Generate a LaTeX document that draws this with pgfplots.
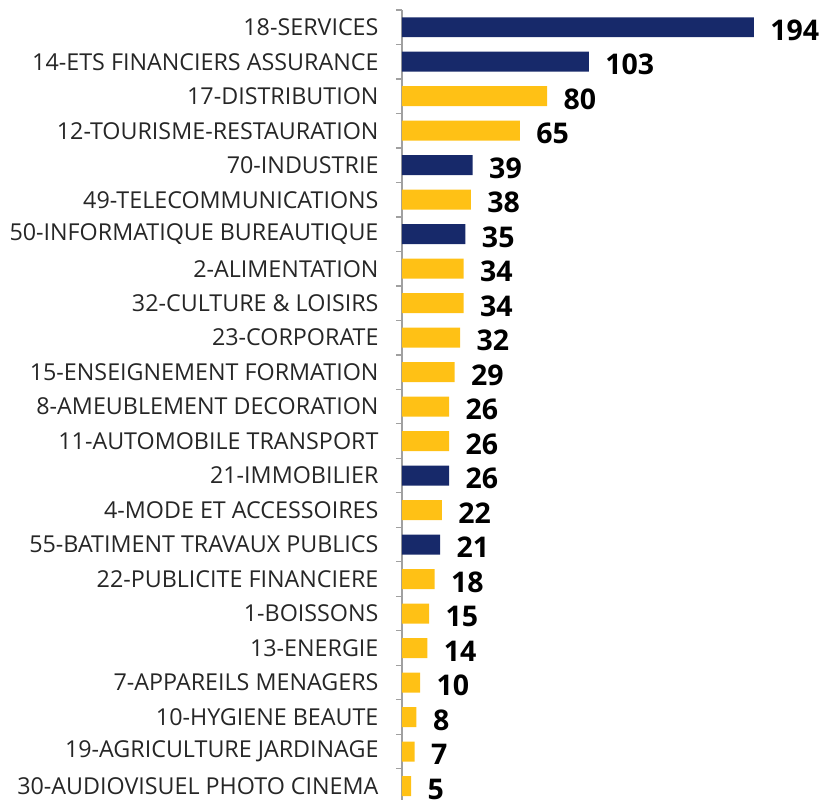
\documentclass[border=0pt]{standalone}
\usepackage{pgfplots}
\pgfplotsset{compat=1.18}
\usepackage{fontspec}
\setmainfont{Open Sans}
\definecolor{navy}{HTML}{17296A}
\definecolor{gold}{HTML}{FFC115}
\definecolor{axgray}{HTML}{A0A0A0}

\begin{document}
\begin{tikzpicture}
\begin{axis}[
  xbar, bar shift=0pt, bar width=20pt,
  scale only axis, width=352pt, height=790pt,
  xmin=0, xmax=194, ymin=0.5, ymax=23.4, y dir=reverse,
  axis x line=none, axis y line*=left,
  y axis line style={-, axgray, line width=1.2pt},
  ytick={1,...,23},
  yticklabels={18-SERVICES, 14-ETS FINANCIERS ASSURANCE, 17-DISTRIBUTION,
    12-TOURISME-RESTAURATION, 70-INDUSTRIE, 49-TELECOMMUNICATIONS,
    50-INFORMATIQUE BUREAUTIQUE, 2-ALIMENTATION, 32-CULTURE \& LOISIRS,
    23-CORPORATE, 15-ENSEIGNEMENT FORMATION, 8-AMEUBLEMENT DECORATION,
    11-AUTOMOBILE TRANSPORT, 21-IMMOBILIER, 4-MODE ET ACCESSOIRES,
    55-BATIMENT TRAVAUX PUBLICS, 22-PUBLICITE FINANCIERE, 1-BOISSONS,
    13-ENERGIE, 7-APPAREILS MENAGERS, 10-HYGIENE BEAUTE,
    19-AGRICULTURE JARDINAGE, 30-AUDIOVISUEL PHOTO CINEMA},
  major y tick style={draw=none}, major tick length=0pt,
  minor ytick={0.5,1.5,...,22.5}, minor tick length=6pt,
  minor y tick style={axgray, line width=1.2pt},
  tick align=outside,
  yticklabel style={font=\fontsize{23.3}{23.3}\selectfont, text=black!85, xshift=-20pt},
  clip=false,
  /pgf/number format/assume math mode=true,
  nodes near coords,
  nodes near coords style={anchor=west, xshift=13pt, yshift=-3pt, text=black,
    font=\bfseries\fontsize{28.5}{28.5}\selectfont},
]
% navy series
\addplot[fill=navy, draw=none] coordinates {
  (194,1) (103,2) (39,5) (35,7) (26,14) (21,16)
};
% gold series
\addplot[fill=gold, draw=none] coordinates {
  (80,3) (65,4) (38,6) (34,8) (34,9) (32,10) (29,11) (26,12) (26,13)
  (22,15) (18,17) (15,18) (14,19) (10,20) (8,21) (7,22) (5,23)
};
\coordinate (bl) at (axis cs:-221.6,23.4);
\coordinate (tr) at (axis cs:232.1,0.21);
\end{axis}
\pgfresetboundingbox
\path[use as bounding box] (bl) rectangle (tr);
\end{tikzpicture}
\end{document}
